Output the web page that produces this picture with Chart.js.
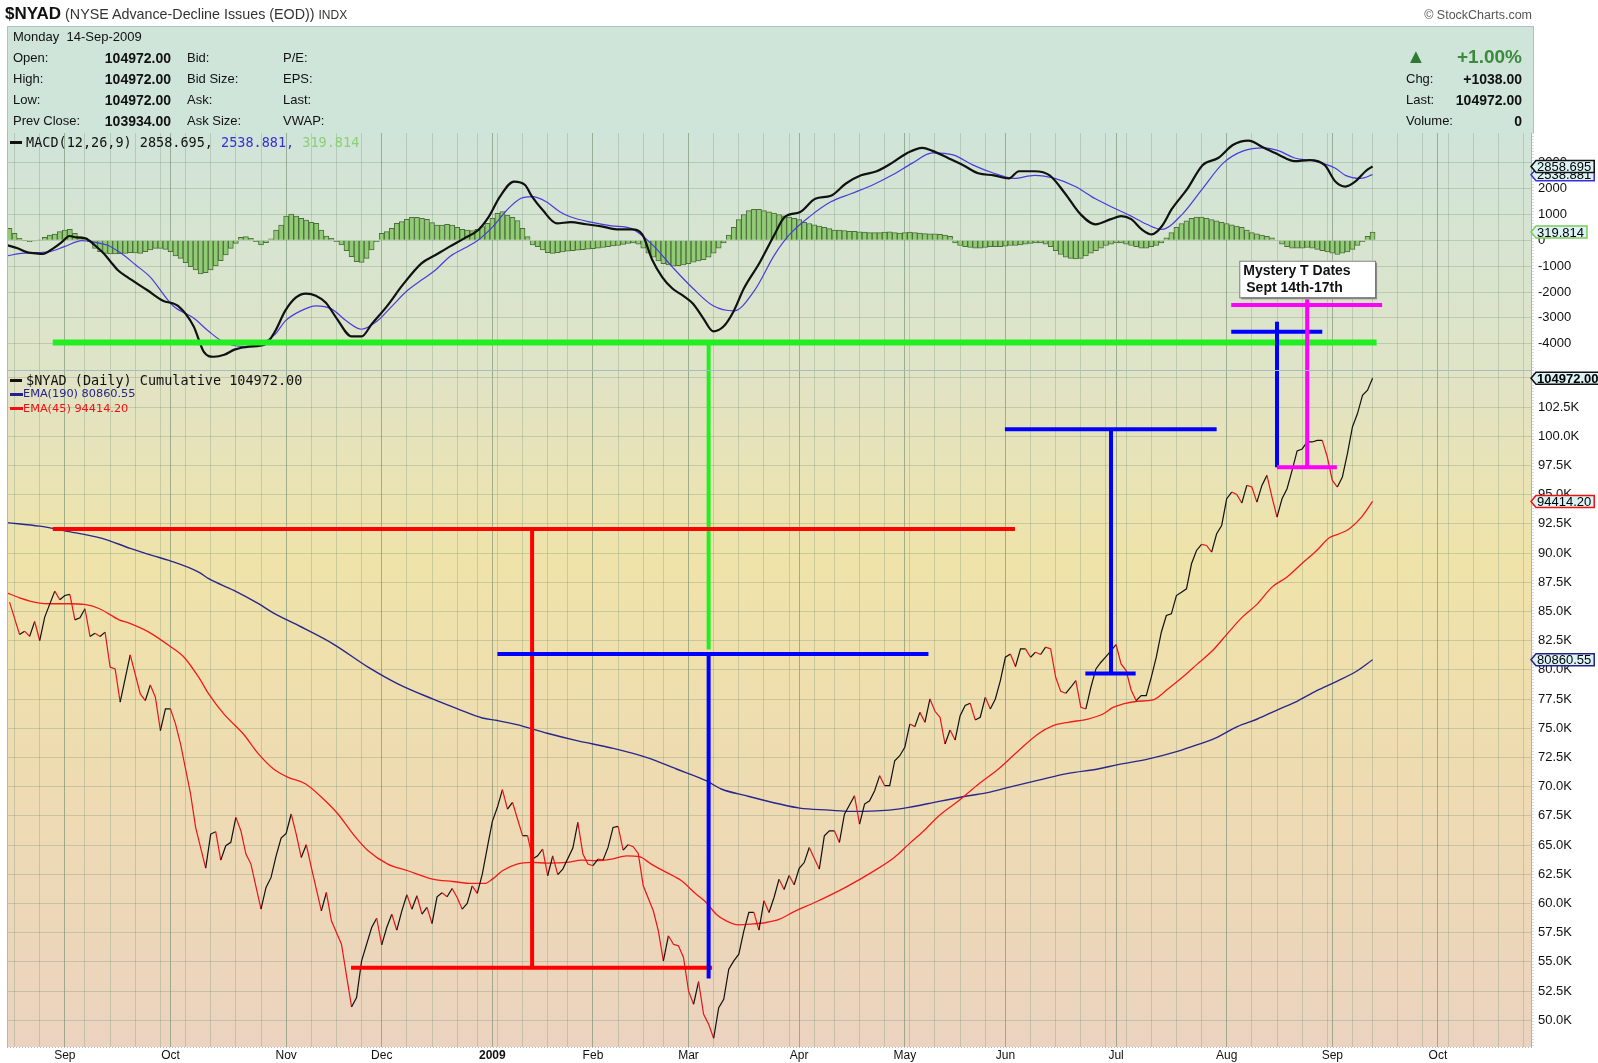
<!DOCTYPE html>
<html>
<head>
<meta charset="utf-8">
<script src="https://cdn.jsdelivr.net/npm/chart.js@4.4.0/dist/chart.umd.min.js"></script>
<style>
  body { margin:0; background:#fff; width:1598px; height:1063px; overflow:hidden; position:relative;
         font-family:"Liberation Sans", Arial, sans-serif; color:#111; }
  #c { position:absolute; left:0; top:0; }
  .t { position:absolute; white-space:nowrap; height:18px; line-height:18px; }
  #hdr { position:absolute; left:7px; top:26px; width:1525px; height:106px; background:#cfe5d9;
         border:1px solid #a9c3c8; border-bottom:none; }
</style>
</head>
<body>
<div id="hdr"></div>
<canvas id="c" width="1598" height="1063"></canvas>
<script>
// ---------------- data (x = trading session, 0 = 2-Sep-2008) ----------------
const priceDay = [-11,-9,-8,-7,-6,-5,-4,-2,-1,0,1,2,3,4,5,6,7,8,9,10,11,13,15,16,17,18,19,20,21,22,23,25,26,28,29,30,31,32,33,34,35,36,37,39,40,41,42,43,44,45,46,47,48,49,51,52,53,55,57,58,59,61,62,63,64,65,66,67,68,69,70,71,72,73,74,75,76,77,78,79,80,81,82,83,84,85,86,87,88,89,90,91,92,93,94,95,96,97,98,99,101,102,103,104,105,106,107,108,109,110,111,112,113,114,115,117,118,119,120,121,122,123,124,125,126,127,128,129,130,131,132,133,134,135,136,137,138,139,140,141,142,143,144,145,146,147,148,150,151,152,153,154,155,157,158,159,160,161,162,163,164,165,166,167,168,169,170,171,172,173,174,175,176,177,178,179,180,181,182,183,184,185,186,187,188,189,190,191,192,193,194,195,196,197,198,199,200,201,202,203,204,205,206,207,209,210,211,212,213,214,215,216,217,218,219,220,221,222,223,224,225,226,227,228,229,230,231,232,233,234,235,236,237,238,239,240,241,242,243,244,245,246,247,248,249,250,251,252,253,254,255,256,257,258,259,260];
const priceVal = [85.80,83.03,83.31,82.86,84.14,82.51,84.51,86.74,86.0,86.37,86.46,84.28,84.46,85.23,82.86,83.14,82.86,83.23,80.23,80.08,77.23,81.28,77.94,77.37,78.71,77.66,74.8,76.66,76.66,75.37,73.66,69.37,66.51,63.03,65.94,66.14,63.71,64.94,65.23,67.37,66.23,64.23,63.37,59.51,61.37,62.23,64.08,65.6,66.0,67.66,65.94,63.94,65.03,63.08,59.37,60.94,58.51,56.51,51.14,51.94,55.08,57.94,58.74,56.46,57.94,59.08,57.71,59.37,60.74,59.51,60.66,59.08,59.66,58.28,60.57,60.91,60.57,61.28,60.51,59.51,60.0,61.51,60.86,62.51,64.8,67.03,68.23,69.74,68.08,68.66,67.23,65.8,65.8,63.8,64.08,64.66,62.37,64.08,62.46,62.94,64.74,66.94,64.23,63.37,63.23,63.8,63.71,64.8,66.51,66.6,64.57,65.03,64.86,64.28,61.51,59.37,57.66,55.08,57.23,56.51,56.37,55.37,52.51,51.37,53.31,50.51,49.66,48.46,51.08,51.8,54.37,55.08,55.66,57.66,59.23,59.23,57.71,60.23,59.23,60.51,62.08,61.2,62.4,61.6,63.0,63.5,64.79,62.94,65.79,66.22,66.22,65.22,67.65,69.22,66.79,68.51,68.79,69.65,70.94,70.08,70.08,72.22,72.65,73.36,75.36,75.14,76.36,75.51,77.51,76.45,75.94,73.65,74.85,73.99,76.08,76.94,77.14,75.71,75.94,77.65,76.65,77.51,79.08,81.08,81.36,80.28,81.79,81.79,81.08,81.51,81.31,81.94,81.79,79.36,78.16,77.99,78.51,79.08,76.79,76.65,78.51,80.08,80.65,81.14,82.16,80.51,79.94,78.28,77.36,77.79,77.79,79.36,81.08,83.22,84.65,84.79,86.36,86.65,86.94,89.08,90.22,90.74,90.65,90.08,91.65,92.36,94.65,95.22,95.02,94.28,95.79,95.65,94.36,95.79,96.65,94.79,93.08,94.65,95.51,97.08,98.74,98.91,99.51,99.51,99.65,99.65,98.22,96.22,95.65,96.51,98.51,100.79,101.94,103.51,103.934,104.972];

const ema45Day = [-11.5,-9,-5,-3,0.9,3.9,6.9,10.8,12.8,16.7,20.7,23.7,26.6,28.6,31.6,35.5,38.5,41.5,44.4,47.9,51.4,54.3,57.3,60.3,64.2,68.2,73.1,77.1,81,83.5,85,87,89.9,92.9,95.9,99.8,102.8,105.7,108.7,111.7,114.2,116.6,119.6,122.6,125.5,127.5,129.5,131.5,133.9,136.4,139.4,142.1,145,149.2,155.3,160.9,164.9,167.8,170.8,173.8,177.7,181.7,185.6,189.6,193.5,196.5,199.5,203.4,206.4,208.4,210.4,213.3,216.3,219.3,222.2,225.2,228.2,231.1,234.1,237.1,240,243,245.9,248.9,251.4,253.4,255.4,257.8,260];
const ema45Val = [86.6,86.17,85.71,85.66,85.66,85.60,85.23,84.28,84.0,83.23,82.08,81.08,79.37,77.94,76.23,74.51,72.8,71.51,70.8,70.23,68.94,67.66,65.94,64.51,63.37,62.8,62.08,61.88,61.71,61.71,62.08,62.8,63.37,63.51,63.46,63.51,63.71,63.66,63.8,64.08,64.0,63.37,62.66,61.94,60.8,60.08,59.08,58.51,58.17,58.23,58.37,58.66,59.3,60.1,61.4,62.79,63.94,65.08,66.22,67.51,68.79,70.22,71.51,73.08,74.51,75.22,75.51,75.79,76.22,76.79,77.08,77.31,77.42,78.36,79.36,80.51,81.65,83.08,84.51,85.65,87.08,87.94,89.08,90.22,91.31,91.65,92.08,93.08,94.4142];

const ema190Day = [-11.5,-5,0,7.4,13,17.5,20.7,26.6,28.6,33.6,38.5,41.5,46.4,53.3,60.3,66.2,73.1,78.1,83,86,89.9,95.9,101.8,108.7,115.6,121.6,127.5,130.5,135.4,142.1,146.1,152,156,163.9,167.8,173.8,179.7,183.7,187.6,193.6,199.5,205.4,209.4,215.3,221.2,225.2,229.1,233.1,237.1,241,245,248.9,252.9,256.8,260];
const ema190Val = [92.6,92.3,91.9,91.26,90.4,89.78,89.37,88.37,87.8,86.8,85.66,84.86,83.8,82.23,80.23,78.8,77.51,76.66,75.88,75.66,75.31,74.57,73.94,73.31,72.51,71.51,70.51,69.8,69.23,68.51,68.16,67.99,67.88,67.99,68.22,68.74,69.22,69.51,69.94,70.56,71.14,71.51,71.88,72.36,73.02,73.59,74.22,75.14,75.79,76.56,77.31,78.22,79.02,79.88,80.86055];

const macdDay = [-11.5,-9.4,-7.2,-5.8,-4.4,-2.3,-0.5,0.9,2.3,4.1,5.9,7.7,9.1,10.5,12.3,16.5,19.5,22.5,25.6,27.6,29.6,31.7,33.7,36.7,39.8,41.8,43.8,45.9,47.9,49.9,51.9,54,57,59,61,64.1,67.1,70.9,73.7,76.5,79.4,82.2,84.3,86.5,89.3,91.5,92.9,95,97.8,100.6,103.6,106.7,109.7,112.7,114.8,116.8,118.8,120.8,122.9,124.9,126.9,128.9,131,133,135,138.1,141.1,143.1,146.2,149.2,152.3,155.3,158.3,161.4,164.4,167.5,170.5,172.5,175.6,178.6,181.6,184.7,187.7,189.7,192.8,195.8,198.9,201.9,204.9,208,210,212,214.1,216.1,218.1,220.1,223.2,226.2,229.3,232.3,235.3,238.4,241.4,244.5,247.5,250.5,252.6,254.6,256.6,258.6,260];
const macdVal = [-182,-310,-478,-504,-530,-311,-53,166,115,76,-182,-504,-827,-1149,-1407,-1943,-2337,-2534,-3323,-4308,-4505,-4427,-4229,-4111,-4032,-3520,-2731,-2218,-2060,-2140,-2416,-3007,-3717,-3717,-3244,-2534,-1745,-891,-569,-246,76,398,914,1688,2269,2140,1688,1172,656,700,620,542,423,423,226,-760,-1430,-1864,-2140,-2455,-3007,-3520,-3323,-2731,-1864,-878,226,897,1094,1606,1724,2198,2513,2671,2986,3381,3578,3460,3184,2907,2592,2513,2395,2671,2671,2513,1803,1015,620,818,936,818,423,226,542,1212,2000,2907,3184,3696,3854,3578,3302,3065,3105,2907,2277,2080,2277,2671,2858.695];

const signalDay = [-11.5,-8.7,-5.8,-3,-0.1,3.4,6.3,8.4,11.2,14.1,16.9,21.5,25.6,28.6,31.7,35.7,38.8,41.8,43.8,46.9,49.9,53,56,59,62.1,65.1,68.1,70.9,73.7,76.5,79.4,82.2,85.1,87.9,90.7,92.9,95.7,98.4,100.6,104.6,108.7,112.7,116.8,120.8,124.9,128.9,133,137.1,141.1,144.1,148.2,152.3,156.3,160.4,164.4,168.5,172.5,176.6,180.6,184.7,188.7,192.8,196.8,200.9,204.9,209,212,215.1,218.1,222.2,226.2,230.3,234.3,238.4,241.4,244.5,248.5,252.6,254.6,257.6,260];
const signalVal = [-607,-504,-478,-440,-246,-14,-92,-182,-504,-955,-1407,-2534,-3007,-3520,-3954,-4111,-3993,-3638,-3125,-2731,-2534,-2652,-3125,-3441,-3125,-2534,-1943,-1537,-1149,-633,-311,12,527,1172,1624,1688,1494,1107,900,700,560,450,-168,-1036,-1864,-2534,-2731,-1943,-563,226,936,1488,1803,2119,2513,2986,3381,3302,2907,2592,2395,2513,2395,2080,1606,1212,936,620,423,1015,2000,2986,3460,3578,3460,3184,3065,2789,2513,2395,2538.881];

// MACD histogram, one bar per session from histStart
const histStart = -11;
const histVal = [463,270,76,-14,-53,-27,12,115,205,244,334,398,424,270,140,76,-53,-311,-440,-504,-530,-530,-520,-504,-478,-490,-504,-440,-375,-311,-311,-349,-440,-607,-697,-865,-1020,-1149,-1303,-1250,-1149,-994,-788,-569,-311,-117,115,140,76,-53,-182,-92,60,398,592,940,1017,940,850,785,700,656,398,166,76,-53,-182,-401,-633,-827,-852,-697,-375,-53,270,334,463,656,721,811,888,888,850,811,682,592,592,618,592,502,424,398,372,424,527,656,850,1043,1107,979,888,759,463,140,-182,-246,-375,-478,-504,
  -480,-450,-420,-400,-380,-360,-340,-320,-300,-280,-250,-220,-200,-160,-120,-100,
  -150,-300,-500,-650,-800,-900,-950,-1000,-980,-950,-900,-850,-800,-750,-650,-500,-300,-100,
  200,500,800,1000,1150,1200,1200,1150,1100,1050,1000,950,900,850,800,700,650,600,550,500,450,400,400,380,350,350,330,320,300,
  300,300,320,330,300,280,300,320,300,280,260,250,250,230,200,150,
  -100,-200,-250,-280,-300,-300,-280,-250,-250,-250,-230,-200,-200,-180,-150,-120,-100,-100,-150,-250,
  -400,-550,-650,-700,-720,-700,-600,-500,-400,-300,-200,-150,-100,-100,-150,-200,
  -250,-300,-300,-250,-200,-100,100,300,500,650,
  750,850,900,900,850,800,750,700,650,600,550,500,400,300,250,200,150,100,0,
  -150,-250,-300,-300,-300,-280,-300,-350,-400,-450,-500,-550,-500,-450,-350,-200,-50,150,319.814];

const macdTicks = [-4000,-3000,-2000,-1000,0,1000,2000,3000];
const priceTicks = [50,52.5,55,57.5,60,62.5,65,67.5,70,72.5,75,77.5,80,82.5,85,87.5,90,92.5,95,97.5,100,102.5,105];
const holidays = ['2008-09-01','2008-11-27','2008-12-25','2009-01-01','2009-01-19','2009-02-16','2009-04-10','2009-05-25','2009-07-03','2009-09-07'];
const monthShort = ['Jan','Feb','Mar','Apr','May','Jun','Jul','Aug','Sep','Oct','Nov','Dec'];

// hand-drawn marks on the chart, in data units
const marks = [
  {c:'#22ee22', w:6, a:['yM',-2.4,-3954], b:['yM',260.8,-3954]},
  {c:'#22ee22', w:4, a:['yM',128,-3954], b:['yP',128,81.75]},
  {c:'#ff0000', w:4, a:['yP',-2.4,92.05], b:['yP',188.9,92.05]},
  {c:'#ff0000', w:4, a:['yP',92.9,92.05], b:['yP',92.9,54.5]},
  {c:'#ff0000', w:4, a:['yP',56.9,54.5], b:['yP',128.7,54.5]},
  {c:'#0000ff', w:4, a:['yP',86,81.35], b:['yP',171.7,81.35]},
  {c:'#0000ff', w:4, a:['yP',128,81.35], b:['yP',128,53.57]},
  {c:'#0000ff', w:4, a:['yP',186.9,100.59], b:['yP',229,100.59]},
  {c:'#0000ff', w:4, a:['yP',208,100.59], b:['yP',208,79.69]},
  {c:'#0000ff', w:4, a:['yP',202.9,79.69], b:['yP',212.9,79.69]},
  {c:'#0000ff', w:4, a:['yM',231.9,-3535], b:['yM',250,-3535]},
  {c:'#0000ff', w:4, a:['yM',241,-3148], b:['yP',241,97.34]},
  {c:'#ff00ff', w:4, a:['yM',231.9,-2503], b:['yM',261.9,-2503]},
  {c:'#ff00ff', w:4, a:['yM',247,-2282], b:['yP',247,97.2]},
  {c:'#ff00ff', w:4, a:['yP',241,97.34], b:['yP',252.9,97.34]}
];
const note = {lines:['Mystery T Dates','Sept 14th-17th'], x1:233.5, x2:260.5, y1:-789, y2:-2205};

// ---------------- session calendar for the x axis ----------------
const sessions = [];
for (let d = new Date(Date.UTC(2008,7,14)); d <= new Date(Date.UTC(2009,9,30)); d.setUTCDate(d.getUTCDate()+1)) {
  const wd = d.getUTCDay();
  if (wd === 0 || wd === 6) continue;
  if (holidays.includes(d.toISOString().slice(0,10))) continue;
  sessions.push(new Date(d));
}
const day0 = sessions.findIndex(d => d.toISOString().startsWith('2008-09-02'));
const xTicks = [];
sessions.forEach((d, i) => {
  const p = sessions[i-1];
  if (!p) return;
  const newMonth = p.getUTCMonth() !== d.getUTCMonth();
  const newWeek = d.getUTCDay() < p.getUTCDay();
  if (newMonth || newWeek) {
    const m = d.getUTCMonth();
    xTicks.push({value: i - day0, mon: newMonth, lab: newMonth ? (m === 0 ? String(d.getUTCFullYear()) : monthShort[m]) : ''});
  }
});

const pts = (xs, ys) => xs.map((x, i) => ({x, y: ys[i]}));
const last = a => a[a.length-1];
const SANS = '"Liberation Sans", Arial, sans-serif';

// ---------------- header text ----------------
function txt(s, x, y, css, right) {
  const d = document.createElement('div');
  d.className = 't';
  d.textContent = s;
  d.style.top = (y - 9) + 'px';
  if (right) d.style.right = (1598 - x) + 'px'; else d.style.left = x + 'px';
  d.style.cssText += css || '';
  document.body.appendChild(d);
  return d;
}
const title = txt('', 5, 14, 'font-size:14.3px;color:#333;');
title.innerHTML = '<span style="font-family:\'Liberation Sans Narrow\',Arial;font-weight:bold;font-size:17px;color:#111">$NYAD</span> (NYSE Advance-Decline Issues (EOD)) <span style="font-size:12px">INDX</span>';
txt('\u00a9 StockCharts.com', 1532, 15, 'font-size:12.5px;color:#555;', true);

const rowsY = [58, 78.5, 100, 121];
txt('Monday\u00a0\u00a014-Sep-2009', 13, 36.5, 'font-size:13px;');
['Open:','High:','Low:','Prev Close:'].forEach((s,i) => txt(s, 13, rowsY[i], 'font-size:13px;'));
['104972.00','104972.00','104972.00','103934.00'].forEach((s,i) => txt(s, 171, rowsY[i], 'font-size:14px;font-weight:bold;', true));
['Bid:','Bid Size:','Ask:','Ask Size:'].forEach((s,i) => txt(s, 187, rowsY[i], 'font-size:13px;'));
['P/E:','EPS:','Last:','VWAP:'].forEach((s,i) => txt(s, 283, rowsY[i], 'font-size:13px;'));
txt('\u25B2', 1406, 56, 'font-size:20px;color:#2f7a32;');
txt('+1.00%', 1522, 57, 'font-size:19px;font-weight:bold;color:#3c8a3c;', true);
['Chg:','Last:','Volume:'].forEach((s,i) => txt(s, 1406, rowsY[i+1], 'font-size:13px;'));
['+1038.00','104972.00','0'].forEach((s,i) => txt(s, 1522, rowsY[i+1], 'font-size:14px;font-weight:bold;', true));

// panel legends
const mono = 'font-family:"DejaVu Sans Mono",monospace;font-size:13.5px;';
const leg1 = txt('', 10, 141.5, mono);
leg1.innerHTML = '<span style="display:inline-block;width:12px;height:3px;background:#111;vertical-align:middle;margin-right:4px"></span>MACD(12,26,9) ' +
  last(macdVal).toFixed(3) + ', <span style="color:#3a2ed8">' + last(signalVal).toFixed(3) + ',</span><span style="color:#8ccf74"> ' + last(histVal).toFixed(3) + '</span>';
const leg2 = txt('', 10, 379.5, mono);
leg2.innerHTML = '<span style="display:inline-block;width:12px;height:3px;background:#111;vertical-align:middle;margin-right:4px"></span>$NYAD (Daily) Cumulative ' + (last(priceVal)*1000).toFixed(2);
const leg3 = txt('', 10, 394, 'font-family:"DejaVu Sans",sans-serif;font-size:11.3px;color:#22228a;');
leg3.innerHTML = '<span style="display:inline-block;width:13px;height:3px;background:#22228a;vertical-align:middle"></span>EMA(190) ' + (last(ema190Val)*1000).toFixed(2);
const leg4 = txt('', 10, 408.5, 'font-family:"DejaVu Sans",sans-serif;font-size:11.3px;color:#ee1111;');
leg4.innerHTML = '<span style="display:inline-block;width:13px;height:3px;background:#ee1111;vertical-align:middle"></span>EMA(45) ' + (last(ema45Val)*1000).toFixed(2);

// ---------------- plugins ----------------
const panels = {
  id: 'panels',
  beforeDraw(chart) {
    const {ctx, chartArea: a, scales: {yM, yP}} = chart;
    let g = ctx.createLinearGradient(0, yM.top, 0, yM.bottom);
    g.addColorStop(0, '#d0e4d9'); g.addColorStop(1, '#dfe4c6');
    ctx.fillStyle = g; ctx.fillRect(a.left, yM.top, a.right - a.left, yM.bottom - yM.top);
    g = ctx.createLinearGradient(0, yP.top, 0, yP.bottom);
    g.addColorStop(0, '#e1e3c6'); g.addColorStop(0.28, '#efe3a9'); g.addColorStop(0.62, '#eedbb2'); g.addColorStop(1, '#ebd3bf');
    ctx.fillStyle = g; ctx.fillRect(a.left, yP.top, a.right - a.left, yP.bottom - yP.top);
  },
  afterDraw(chart) {
    const {ctx, chartArea: a, scales: {yM, yP}} = chart;
    ctx.save();
    ctx.strokeStyle = '#a4bcc4'; ctx.lineWidth = 1;
    ctx.beginPath();
    ctx.moveTo(a.left, yP.top + 0.5); ctx.lineTo(a.right, yP.top + 0.5);
    ctx.moveTo(a.left + 0.5, a.top); ctx.lineTo(a.left + 0.5, a.bottom);
    ctx.stroke();
    ctx.setLineDash([1, 2]);
    ctx.beginPath();
    ctx.moveTo(a.left, a.bottom + 0.5); ctx.lineTo(a.right, a.bottom + 0.5);
    ctx.moveTo(a.right + 2, a.top); ctx.lineTo(a.right + 2, a.bottom);
    ctx.stroke();
    ctx.restore();
    // value tags on the right axis
    const tag = (y, text, stroke, bold) => {
      ctx.save();
      ctx.font = (bold ? 'bold ' : '') + '13px ' + SANS;
      const w = ctx.measureText(text).width, h = 12, x0 = a.right;
      ctx.beginPath();
      ctx.moveTo(x0, y); ctx.lineTo(x0 + 5, y - h/2); ctx.lineTo(x0 + 9 + w, y - h/2);
      ctx.lineTo(x0 + 9 + w, y + h/2); ctx.lineTo(x0 + 5, y + h/2); ctx.closePath();
      ctx.fillStyle = '#dcf3f6'; ctx.fill();
      ctx.lineWidth = 1.5; ctx.strokeStyle = stroke; ctx.stroke();
      ctx.fillStyle = '#000'; ctx.textBaseline = 'middle';
      ctx.fillText(text, x0 + 6, y + 1);
      ctx.restore();
    };
    tag(yM.getPixelForValue(last(signalVal)), last(signalVal).toFixed(3), '#3a2ed8');
    tag(yM.getPixelForValue(last(macdVal)), last(macdVal).toFixed(3), '#111');
    tag(yM.getPixelForValue(last(histVal)), last(histVal).toFixed(3), '#7ccc5c');
    tag(yP.getPixelForValue(last(priceVal)), (last(priceVal)*1000).toFixed(2), '#111', true);
    tag(yP.getPixelForValue(last(ema45Val)), (last(ema45Val)*1000).toFixed(2), '#ee1111');
    tag(yP.getPixelForValue(last(ema190Val)), (last(ema190Val)*1000).toFixed(2), '#22228a');
  }
};

const drawMarks = {
  id: 'drawMarks',
  afterDatasetsDraw(chart) {
    const {ctx, scales} = chart;
    const px = p => [scales.x.getPixelForValue(p[1]), scales[p[0]].getPixelForValue(p[2])];
    ctx.save();
    marks.forEach(m => {
      const [x1, y1] = px(m.a), [x2, y2] = px(m.b);
      ctx.strokeStyle = m.c; ctx.lineWidth = m.w; ctx.lineCap = 'butt';
      ctx.beginPath(); ctx.moveTo(x1, y1); ctx.lineTo(x2, y2); ctx.stroke();
    });
    const l = scales.x.getPixelForValue(note.x1), r = scales.x.getPixelForValue(note.x2);
    const t = scales.yM.getPixelForValue(note.y1), b = scales.yM.getPixelForValue(note.y2);
    ctx.fillStyle = '#8a8a8a'; ctx.fillRect(l + 2, t + 2, r - l, b - t);
    ctx.fillStyle = '#fff'; ctx.fillRect(l, t, r - l, b - t);
    ctx.strokeStyle = '#777'; ctx.lineWidth = 1; ctx.strokeRect(l + 0.5, t + 0.5, r - l, b - t);
    ctx.fillStyle = '#111'; ctx.font = 'bold 14px ' + SANS; ctx.textBaseline = 'middle';
    ctx.fillText(note.lines[0], l + 4, t + 10);
    ctx.fillText(note.lines[1], l + 7, t + 27);
    ctx.restore();
  }
};

// ---------------- chart ----------------
const gridCol = 'rgba(120,150,120,0.32)';
new Chart(document.getElementById('c'), {
  type: 'line',
  data: {
    datasets: [
      {type: 'bar', yAxisID: 'yM', data: histVal.map((v, i) => ({x: histStart + i, y: v})),
       backgroundColor: '#92cb76', borderColor: '#4d6e3c', borderWidth: 1,
       barPercentage: 1, categoryPercentage: 1, order: 5},
      {yAxisID: 'yM', data: pts(signalDay, signalVal), borderColor: '#4b3bdc', borderWidth: 1.2,
       pointRadius: 0, cubicInterpolationMode: 'monotone', order: 4},
      {yAxisID: 'yM', data: pts(macdDay, macdVal), borderColor: '#111', borderWidth: 2.2,
       pointRadius: 0, cubicInterpolationMode: 'monotone', order: 3},
      {yAxisID: 'yP', data: pts(ema190Day, ema190Val), borderColor: '#27278e', borderWidth: 1.4,
       pointRadius: 0, cubicInterpolationMode: 'monotone', order: 4},
      {yAxisID: 'yP', data: pts(ema45Day, ema45Val), borderColor: '#f21a1a', borderWidth: 1.3,
       pointRadius: 0, cubicInterpolationMode: 'monotone', order: 3},
      {yAxisID: 'yP', data: pts(priceDay, priceVal), borderWidth: 1.2, pointRadius: 0, tension: 0, order: 2,
       borderColor: '#111',
       segment: {borderColor: c => c.p1.parsed.y < c.p0.parsed.y ? '#e8141a' : '#111'}}
    ]
  },
  options: {
    responsive: false,
    animation: false,
    layout: {padding: {left: 7, top: 133, right: 0, bottom: 0}},
    plugins: {legend: {display: false}, tooltip: {enabled: false}},
    scales: {
      x: {
        type: 'linear', min: -11.5, max: 291.5, position: 'bottom', offset: false, bounds: 'data',
        afterBuildTicks: s => { s.ticks = xTicks.map(t => ({value: t.value, mon: t.mon, lab: t.lab})); },
        afterFit: s => { s.height = 16; s.paddingLeft = 0; s.paddingRight = 0; },
        grid: {offset: false, color: c => c.tick && c.tick.mon ? 'rgba(100,130,100,0.55)' : gridCol, drawTicks: false},
        border: {display: false},
        ticks: {autoSkip: false, maxRotation: 0, padding: 1, color: '#111',
                font: c => ({family: SANS, size: 12, weight: c.tick && c.tick.lab === '2009' ? 'bold' : 'normal'}),
                callback: (v, i, t) => t[i].lab}
      },
      yM: {
        type: 'linear', position: 'right', stack: 'panes', stackWeight: 237, min: -5017, max: 4151,
        afterBuildTicks: s => { s.ticks = macdTicks.map(v => ({value: v})); },
        afterFit: s => { s.width = 67; },
        grid: {color: gridCol, drawTicks: false},
        border: {color: '#9cb8c2'},
        ticks: {autoSkip: false, padding: 7, color: '#111', font: {family: SANS, size: 13}, callback: v => String(v)}
      },
      yP: {
        type: 'linear', position: 'right', stack: 'panes', stackWeight: 677, min: 47.71, max: 105.67,
        afterBuildTicks: s => { s.ticks = priceTicks.map(v => ({value: v})); },
        afterFit: s => { s.width = 67; },
        grid: {color: gridCol, drawTicks: false},
        border: {color: '#9cb8c2'},
        ticks: {autoSkip: false, padding: 7, color: '#111', font: {family: SANS, size: 13}, callback: v => v.toFixed(1) + 'K'}
      }
    }
  },
  plugins: [panels, drawMarks]
});
</script>
</body>
</html>
